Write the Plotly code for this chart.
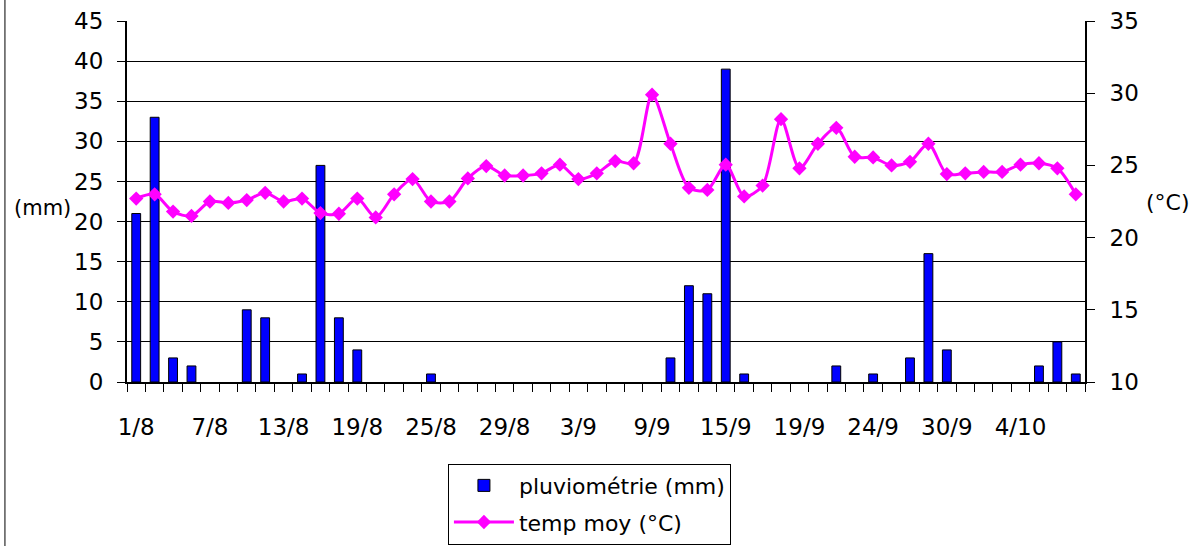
import plotly.graph_objects as go

# ---- data ----
n_days = 52
day_index = list(range(n_days))

rain_mm = [21, 33, 3, 2, 0, 0, 9, 8, 0, 1, 27, 8, 4, 0, 0, 0, 1, 0, 0, 0,
           0, 0, 0, 0, 0, 0, 0, 0, 0, 3, 12, 11, 39, 1, 0, 0, 0, 0, 2, 0,
           1, 0, 3, 16, 4, 0, 0, 0, 0, 2, 5, 1]

temp_moy = [22.7, 23.0, 21.8, 21.5, 22.5, 22.4, 22.6, 23.1, 22.5, 22.7,
            21.7, 21.65, 22.7, 21.4, 23.0, 24.05, 22.5, 22.5, 24.1, 24.95,
            24.3, 24.3, 24.45, 25.05, 24.05, 24.45, 25.3, 25.15, 29.9, 26.5,
            23.45, 23.3, 25.05, 22.85, 23.6, 28.2, 24.8, 26.5, 27.6, 25.6,
            25.55, 25.0, 25.25, 26.5, 24.4, 24.45, 24.55, 24.55, 25.05, 25.15,
            24.8, 23.0]

tick_labels = ["1/8", "7/8", "13/8", "19/8", "25/8", "29/8", "3/9", "9/9",
               "15/9", "19/9", "24/9", "30/9", "4/10"]
label_every = 4  # one label every 4 categories
tick_positions = [i * label_every for i in range(len(tick_labels))]

FONT = "DejaVu Sans"

# days without rain are not drawn at all
rain_drawn = [v if v > 0 else None for v in rain_mm]

fig = go.Figure()

fig.add_trace(go.Bar(
    x=day_index, y=rain_drawn, name="pluviométrie (mm)",
    marker=dict(color="#0000FF", line=dict(color="black", width=1)),
    width=0.48, yaxis="y", legendgroup="a",
))

fig.add_trace(go.Scatter(
    x=day_index, y=temp_moy, name="temp moy (°C)", yaxis="y2",
    mode="lines+markers",
    line=dict(color="#FF00FF", width=3, shape="spline", smoothing=0.8),
    marker=dict(symbol="diamond", size=11, color="#FF00FF"),
    legendgroup="b",
))

fig.update_layout(
    width=1197, height=546,
    margin=dict(l=127, r=112, t=21, b=164, autoexpand=False),
    paper_bgcolor="white", plot_bgcolor="white",
    font=dict(family=FONT, size=22, color="black"),
    showlegend=True,
    legend=dict(
        x=0.335, y=-0.226, xanchor="left", yanchor="top",
        bordercolor="black", borderwidth=1, bgcolor="white",
        font=dict(family=FONT, size=22), traceorder="grouped",
        tracegroupgap=5, itemwidth=60,
    ),
    xaxis=dict(
        range=[-0.5, n_days - 0.5], tickmode="array",
        tickvals=tick_positions, ticktext=tick_labels, ticks="", ticklen=0,
        showline=True, linecolor="black", linewidth=2,
        showgrid=False, zeroline=False, automargin=False,
        ticklabelstandoff=23,
        minor=dict(ticks="outside", ticklen=8, tick0=-0.5, dtick=1,
                   tickcolor="black", tickwidth=1, showgrid=False),
        tickfont=dict(family=FONT, size=23),
    ),
    yaxis=dict(
        range=[0, 45], dtick=5, tick0=0, ticks="outside", ticklen=8,
        tickcolor="black", showline=True, linecolor="black", linewidth=2,
        showgrid=True, gridcolor="black", gridwidth=1, zeroline=False,
        automargin=False, tickfont=dict(family=FONT, size=23),
        ticklabelstandoff=9,
    ),
    yaxis2=dict(
        range=[10, 35], dtick=5, tick0=10, ticks="outside", ticklen=8,
        tickcolor="black", showline=True, linecolor="black", linewidth=2,
        overlaying="y", side="right", showgrid=False, zeroline=False,
        automargin=False, tickfont=dict(family=FONT, size=23),
        ticklabelstandoff=10,
    ),
    annotations=[
        dict(text="(mm)", x=-0.0887, y=0.483, xref="paper", yref="paper",
             xanchor="center", yanchor="middle",
             showarrow=False, font=dict(family=FONT, size=21)),
        dict(text="(°C)", x=1.0866, y=0.497, xref="paper", yref="paper",
             xanchor="center", yanchor="middle",
             showarrow=False, font=dict(family=FONT, size=22)),
    ],
    shapes=[
        dict(type="line", xref="paper", yref="paper",
             x0=-0.1274, x1=-0.1274, y0=-0.48, y1=1.08,
             line=dict(color="black", width=1)),
    ],
)

fig.write_html(
    "out.html",
    config={"displayModeBar": False},
    post_script="document.body.style.margin='0';document.body.style.overflow='hidden';",
)
